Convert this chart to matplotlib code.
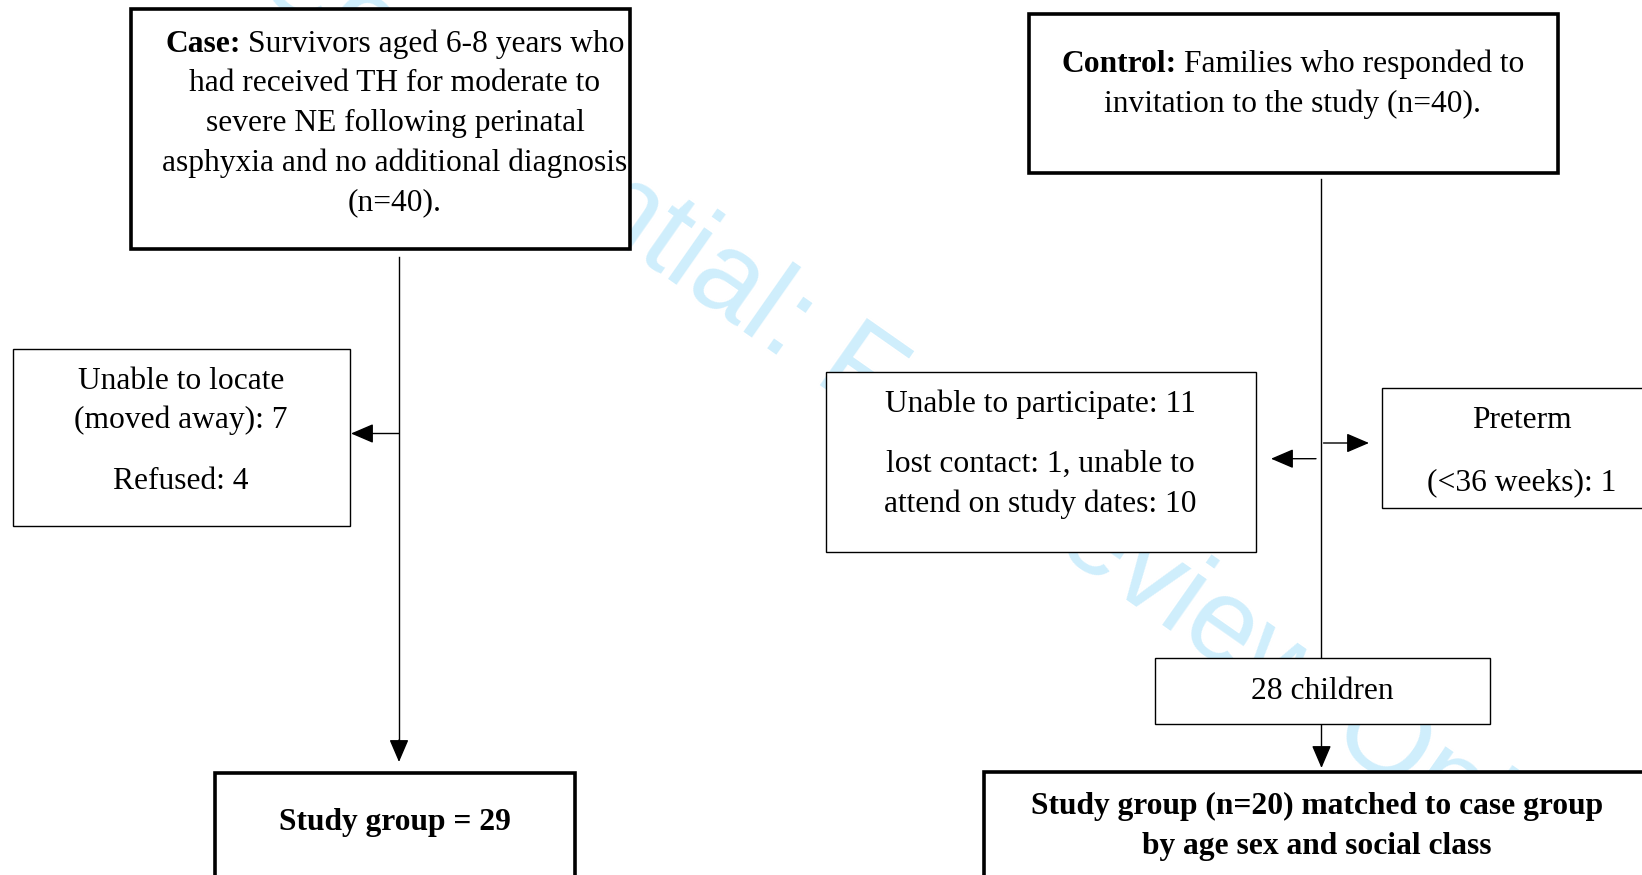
import matplotlib.pyplot as plt
from matplotlib.patches import Rectangle

W, H = 1642, 875

# texts of the flow chart
case_title = "Case:"
case_lines = ["Survivors aged 6-8 years who",
              "had received TH for moderate to",
              "severe NE following perinatal",
              "asphyxia and no additional diagnosis",
              "(n=40)."]
control_title = "Control:"
control_lines = ["Families who responded to",
                 "invitation to the study (n=40)."]
case_excluded = ["Unable to locate", "(moved away): 7", "Refused: 4"]
control_excluded = ["Unable to participate: 11",
                    "lost contact: 1, unable to",
                    "attend on study dates: 10"]
preterm = ["Preterm", "(<36 weeks): 1"]
control_mid = ["28 children"]
case_final = ["Study group = 29"]
control_final = ["Study group (n=20) matched to case group",
                 "by age sex and social class"]
watermark = "Confidential: For Review Only"

SERIF = "Liberation Serif"
FS = 22.7


def box(ax, x0, y0, x1, y1, lw=1.0):
    ax.add_patch(Rectangle((x0, y0), x1 - x0, y1 - y0, facecolor="white",
                           edgecolor="black", lw=lw, zorder=2))


def lines(ax, xc, ys, texts, bold=False):
    for y, t in zip(ys, texts):
        ax.text(xc, y, t, ha="center", va="baseline", family=SERIF,
                fontsize=FS, fontweight="bold" if bold else "normal", zorder=3)


def mixed_line(ax, xc, y, bold, rest):
    # bold label followed by normal text, centred as one line
    r = ax.figure.canvas.get_renderer()
    t1 = ax.text(0, y, bold, va="baseline", family=SERIF, fontsize=FS,
                 fontweight="bold", zorder=3)
    t2 = ax.text(0, y, rest, va="baseline", family=SERIF, fontsize=FS, zorder=3)
    w1 = t1.get_window_extent(r).width
    w2 = t2.get_window_extent(r).width
    gap = FS * 0.25 * 100 / 72
    x0 = xc - (w1 + gap + w2) / 2
    t1.set_x(x0)
    t2.set_x(x0 + w1 + gap)


def arrow(ax, x0, y0, x1, y1):
    ax.annotate("", xy=(x1, y1), xytext=(x0, y0), zorder=1.5,
                arrowprops=dict(arrowstyle="-|>,head_length=0.7,head_width=0.3",
                                color="black", lw=1.0, shrinkA=0, shrinkB=0,
                                mutation_scale=20))


fig = plt.figure(figsize=(W / 100, H / 100), dpi=100)
ax = fig.add_axes([0, 0, 1, 1])
ax.set_xlim(0, W)
ax.set_ylim(H, 0)
ax.axis("off")

ax.text(904, 407, watermark, rotation=-35, rotation_mode="anchor",
        ha="center", va="center", fontsize=85, family="Liberation Sans",
        color="#cfeefc", zorder=1)

# case column
box(ax, 131, 9, 630, 249, lw=2.6)
mixed_line(ax, 395, 52, case_title, case_lines[0])
lines(ax, 395, [91, 131, 171, 210], case_lines[1:])
ax.plot([399, 399], [257, 740], color="black", lw=1.0, zorder=1.5)
arrow(ax, 399, 762 - 22, 399, 762)
arrow(ax, 399, 433.5, 351, 433.5)
box(ax, 13, 349, 350, 526)
lines(ax, 181, [389, 428, 489], case_excluded)
box(ax, 215, 773, 575, 900, lw=2.6)
lines(ax, 395, [830], case_final, bold=True)

# control column
box(ax, 1029, 14, 1558, 173, lw=2.6)
mixed_line(ax, 1293, 72, control_title, control_lines[0])
lines(ax, 1293, [112], control_lines[1:])
ax.plot([1320.5, 1320.5], [179, 658], color="black", lw=1.0, zorder=1.5)
arrow(ax, 1316, 458.7, 1271, 458.7)
arrow(ax, 1323.5, 443, 1369, 443)
box(ax, 826, 372, 1256, 552)
lines(ax, 1040.5, [412, 472, 512], control_excluded)
box(ax, 1382, 387.5, 1700, 508)
lines(ax, 1522, [428, 490], preterm)
box(ax, 1155, 658, 1490, 724)
lines(ax, 1322, [699], control_mid)
arrow(ax, 1321.5, 724, 1321.5, 768)
box(ax, 984, 772, 1700, 900, lw=2.6)
lines(ax, 1317, [814, 854], control_final, bold=True)

fig.savefig("out.png", dpi=100)
